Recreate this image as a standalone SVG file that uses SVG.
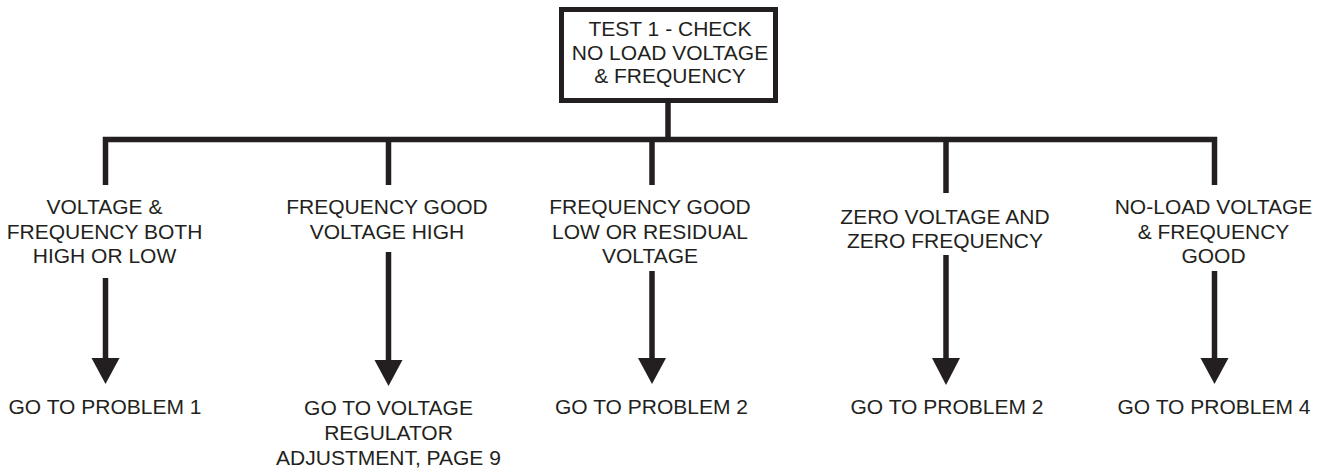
<svg xmlns="http://www.w3.org/2000/svg" width="1330" height="468" viewBox="0 0 1330 468">
<style>
.t{font-family:"Liberation Sans",Arial,sans-serif;font-size:21px;fill:#231f20;text-anchor:middle}
.ln{stroke:#231f20;stroke-width:5.5;fill:none}
.ah{fill:#231f20}
</style>
<rect width="1330" height="468" fill="#ffffff"/>
<g id="connectors">
<line class="ln" x1="668" y1="102" x2="668" y2="140"/>
<path class="ln" d="M105.5,185 V139.5 H1214.5 V185" stroke-linejoin="miter"/>
<line class="ln" x1="388.5" y1="139.5" x2="388.5" y2="185"/>
<line class="ln" x1="652" y1="139.5" x2="652" y2="185"/>
<line class="ln" x1="946" y1="139.5" x2="946" y2="193"/>
<line class="ln" x1="105.5" y1="278" x2="105.5" y2="360"/>
<polygon class="ah" points="91.5,358 119.5,358 105.5,384"/>
<line class="ln" x1="388.5" y1="252" x2="388.5" y2="362"/>
<polygon class="ah" points="374.5,360 402.5,360 388.5,386"/>
<line class="ln" x1="652" y1="271" x2="652" y2="360"/>
<polygon class="ah" points="638,358 666,358 652,384"/>
<line class="ln" x1="946" y1="255" x2="946" y2="360"/>
<polygon class="ah" points="932,358 960,358 946,385"/>
<line class="ln" x1="1214.5" y1="271" x2="1214.5" y2="360"/>
<polygon class="ah" points="1200.5,358 1228.5,358 1214.5,384"/>
</g>
<g id="test1">
<rect x="561.5" y="9.5" width="214" height="91" fill="#ffffff" stroke="#231f20" stroke-width="5"/>
<text class="t" x="670" y="36">TEST 1 - CHECK</text>
<text class="t" x="670" y="60">NO LOAD VOLTAGE</text>
<text class="t" x="670" y="83">&amp; FREQUENCY</text>
</g>
<g id="cond1">
<text class="t" x="104.5" y="214">VOLTAGE &amp;</text>
<text class="t" x="104.5" y="238.5">FREQUENCY BOTH</text>
<text class="t" x="104.5" y="263">HIGH OR LOW</text>
</g>
<g id="cond2">
<text class="t" x="387" y="214">FREQUENCY GOOD</text>
<text class="t" x="387" y="238.5">VOLTAGE HIGH</text>
</g>
<g id="cond3">
<text class="t" x="650" y="214">FREQUENCY GOOD</text>
<text class="t" x="650" y="238.5">LOW OR RESIDUAL</text>
<text class="t" x="650" y="263">VOLTAGE</text>
</g>
<g id="cond4">
<text class="t" x="945" y="224">ZERO VOLTAGE AND</text>
<text class="t" x="945" y="248">ZERO FREQUENCY</text>
</g>
<g id="cond5">
<text class="t" x="1213.5" y="214">NO-LOAD VOLTAGE</text>
<text class="t" x="1213.5" y="238.5">&amp; FREQUENCY</text>
<text class="t" x="1213.5" y="263">GOOD</text>
</g>
<g id="result1">
<text class="t" x="105" y="414">GO TO PROBLEM 1</text>
</g>
<g id="result2">
<text class="t" x="388.5" y="415">GO TO VOLTAGE</text>
<text class="t" x="388.5" y="440">REGULATOR</text>
<text class="t" x="388.5" y="465">ADJUSTMENT, PAGE 9</text>
</g>
<g id="result3">
<text class="t" x="651.5" y="414">GO TO PROBLEM 2</text>
</g>
<g id="result4">
<text class="t" x="947" y="414">GO TO PROBLEM 2</text>
</g>
<g id="result5">
<text class="t" x="1214" y="414">GO TO PROBLEM 4</text>
</g>
</svg>
